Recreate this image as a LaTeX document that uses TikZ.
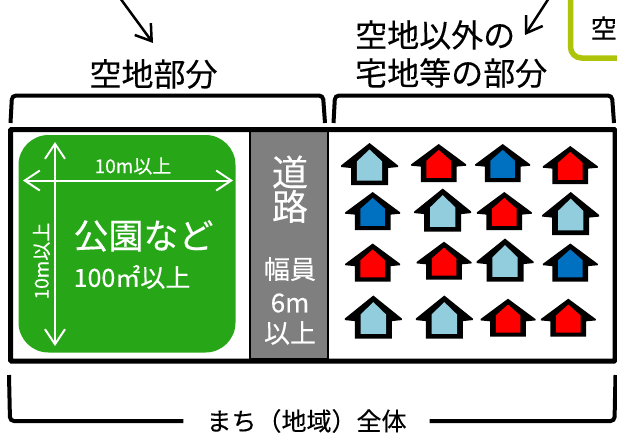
\documentclass[tikz,border=0pt]{standalone}
\usepackage{fontspec}
\setmainfont[FakeBold=0.25]{Noto Sans CJK JP}
\newfontfamily\lblfont[AutoFakeBold=0.25]{Noto Sans CJK JP}
\usetikzlibrary{arrows.meta,positioning}
\definecolor{parkgreen}{RGB}{39,167,23}
\definecolor{roadgray}{RGB}{127,127,127}
\definecolor{noteline}{RGB}{174,196,10}
\definecolor{paleblue}{RGB}{146,205,222}
\definecolor{deepblue}{RGB}{0,112,192}
\newcommand{\fsz}[1]{\lblfont\bfseries\fontsize{#1}{#1}\selectfont}
\tikzset{
	x=1pt, y=-1pt,
	lbl/.style={inner sep=0pt, align=center, font=\fsz{32}},
	wlbl/.style={lbl, text=white},
	bracket/.style={line width=4pt, rounded corners=4pt},
	barb/.style={line width=2.5pt, -{Straight Barb[length=15pt,width=20pt,line width=2.5pt]}},
	wbarb/.style={white, line width=2pt, {Straight Barb[length=15pt,width=20pt,line width=2pt]}-{Straight Barb[length=15pt,width=20pt,line width=2pt]}}
}
\begin{document}
\begin{tikzpicture}
	\useasboundingbox (0,0) rectangle (617,434);

	% note box, cut off by the page
	\draw[noteline, line width=5.5pt, rounded corners=11pt] (570.5,0) -- (570.5,58) -- (617,58);
	\node[lbl, font=\fsz{26}, anchor=east] (note) at (617,28) {空};

	\coordinate (a1s) at (120,-2);
	\coordinate (a1e) at (153,43);
	\coordinate (a2s) at (549,-2);
	\coordinate (a2e) at (525,35);
	\draw[barb] (a1s) -- (a1e);
	\draw[barb] (a2s) -- (a2e);

	\node[lbl] (vacant) at (153.5,74) {空地部分};
	\node[lbl, anchor=west] (other1) at (355,35) {空地以外の};
	\node[lbl, anchor=west] (other2) at (355,73) {宅地等の部分};

	% brackets
	\draw[bracket] (10.5,123) -- (12,95.5) -- (323,95.5) -- (325,123);
	\draw[bracket] (333.5,123) -- (335,95.5) -- (612,95.5) -- (614,123);

	% frame and road
	\node[draw, line width=2.5pt, fill=roadgray, minimum width=78pt, minimum height=229pt, inner sep=0pt] (road) at (289,245) {};
	\draw[line width=5pt, rounded corners=1pt] (10.5,129.5) rectangle (615,361);
	\node[wlbl, font=\fsz{36}] (road1) at (290,172) {道};
	\node[wlbl, font=\fsz{36}, below=1pt of road1] (road2) {路};
	\node[wlbl, font=\fsz{26}] (road3) at (290,269) {幅員};
	\node[wlbl, font=\fsz{26}] (road4) at (290,303) {6m};
	\node[wlbl, font=\fsz{26}] (road5) at (290,333) {以上};

	% park
	\fill[parkgreen, rounded corners=30pt] (18.5,135) rectangle (235.5,352.5);
	\coordinate (pl) at (23,180.5);
	\coordinate (pr) at (233,180.5);
	\coordinate (pt) at (55,142);
	\coordinate (pb) at (55,346);
	\draw[wbarb] (pl) -- (pr);
	\draw[wbarb] (pt) -- (pb);
	\node[wlbl, font=\fsz{19}] (parkw) at (133,166) {10m以上};
	\node[wlbl, font=\fsz{19}, rotate=90] (parkh) at (41.5,261) {10m以上};
	\node[wlbl, font=\fsz{35}] (park) at (143.5,236) {公園など};
	\node[wlbl, font=\fsz{25}] (parka) at (132,277) {100㎡以上};

	% houses: x / apex y / width / height / colour
	\foreach \hx/\hy/\hw/\hh/\hc in {
		369.5/143/57/42/paleblue, 438.7/144/55/38/red, 502.7/144/55/38/deepblue, 570.3/146/55/38/red,
		372.7/192/55/38/deepblue, 442.7/188.5/57/43/paleblue, 504.3/192/55/38/red, 570.7/192/57/43/paleblue,
		372.7/243.5/55/38/red, 444/241.7/55/38/red, 505/238.5/57/43/paleblue, 570.3/243.5/55/38/deepblue,
		373.3/295.5/57/43/paleblue, 444.3/295.5/57/43/paleblue, 508/298.7/55/38/red, 568.3/298.7/55/38/red} {
		\begin{scope}[shift={(\hx,\hy)}, x=\hw/57*1pt, y=-\hh/42*1pt]
			\fill (0,0) -- (28.5,22.5) -- (28.5,24) -- (18.5,25) -- (18.5,42) -- (-18.5,42) -- (-18.5,25) -- (-28.5,24) -- (-28.5,22.5) -- cycle;
			\fill[\hc] (0,6.5) -- (12.7,18.5) -- (12.7,37.5) -- (-12.7,37.5) -- (-12.7,18.5) -- cycle;
		\end{scope}
	}

	% whole area
	\node[lbl, font=\fsz{25}] (whole) at (306.5,421) {まち（地域）全体};
	\coordinate (wl) at (9,375);
	\coordinate (wr) at (615.5,375);
	\draw[bracket] (wl) -- (10,421) -- ([xshift=-23pt]whole.west);
	\draw[bracket] (wr) -- (614.5,421) -- ([xshift=23pt]whole.east);
\end{tikzpicture}
\end{document}
